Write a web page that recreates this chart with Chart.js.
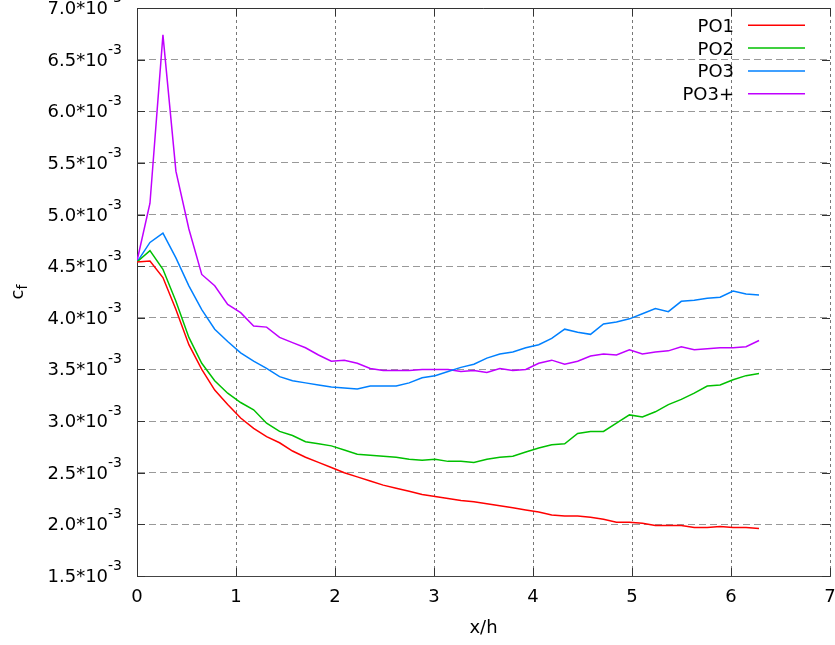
<!DOCTYPE html>
<html>
<head>
<meta charset="utf-8">
<script src="https://cdn.jsdelivr.net/npm/chart.js@4.4.1/dist/chart.umd.min.js"></script>
<style>
  html, body { margin: 0; padding: 0; background: #fff; }
  #wrap { width: 835px; height: 645px; }
</style>
</head>
<body>
<div id="wrap"><canvas id="cfChart" width="835" height="645"></canvas></div>
<script>
// x/h stations
const xh = [0, 0.131, 0.262, 0.393, 0.524, 0.654, 0.785, 0.916, 1.047, 1.178, 1.309, 1.440, 1.571,
    1.702, 1.833, 1.963, 2.094, 2.225, 2.356, 2.487, 2.618, 2.749, 2.880, 3.011, 3.142, 3.272,
    3.403, 3.534, 3.665, 3.796, 3.927, 4.058, 4.189, 4.320, 4.451, 4.581, 4.712, 4.843, 4.974,
    5.105, 5.236, 5.367, 5.498, 5.629, 5.760, 5.890, 6.021, 6.152, 6.283];

// c_f values, in units of 10^-3
const po1 = [4.54, 4.55, 4.39, 4.08, 3.74, 3.50, 3.30, 3.16, 3.03, 2.93, 2.85, 2.79, 2.71,
    2.65, 2.60, 2.55, 2.50, 2.46, 2.42, 2.38, 2.35, 2.32, 2.29, 2.27, 2.25, 2.23,
    2.22, 2.20, 2.18, 2.16, 2.14, 2.12, 2.09, 2.08, 2.08, 2.07, 2.05, 2.02, 2.02,
    2.01, 1.99, 1.99, 1.99, 1.97, 1.97, 1.98, 1.97, 1.97, 1.96];
const po2 = [4.54, 4.65, 4.47, 4.16, 3.81, 3.56, 3.39, 3.27, 3.18, 3.11, 2.98, 2.90, 2.86,
    2.80, 2.78, 2.76, 2.72, 2.68, 2.67, 2.66, 2.65, 2.63, 2.62, 2.63, 2.61, 2.61,
    2.60, 2.63, 2.65, 2.66, 2.70, 2.74, 2.77, 2.78, 2.88, 2.90, 2.90, 2.98, 3.06,
    3.04, 3.09, 3.16, 3.21, 3.27, 3.34, 3.35, 3.40, 3.44, 3.46];
const po3 = [4.54, 4.73, 4.82, 4.58, 4.31, 4.08, 3.89, 3.77, 3.66, 3.58, 3.51, 3.43, 3.39,
    3.37, 3.35, 3.33, 3.32, 3.31, 3.34, 3.34, 3.34, 3.37, 3.42, 3.44, 3.48, 3.52,
    3.55, 3.61, 3.65, 3.67, 3.71, 3.74, 3.80, 3.89, 3.86, 3.84, 3.94, 3.96, 3.99,
    4.04, 4.09, 4.06, 4.16, 4.17, 4.19, 4.20, 4.26, 4.23, 4.22];
const po3plus = [4.55, 5.11, 6.74, 5.42, 4.86, 4.42, 4.31, 4.13, 4.05, 3.92, 3.91, 3.81, 3.76,
    3.71, 3.64, 3.58, 3.59, 3.56, 3.51, 3.49, 3.49, 3.49, 3.50, 3.50, 3.50, 3.48,
    3.49, 3.47, 3.51, 3.49, 3.50, 3.56, 3.59, 3.55, 3.58, 3.63, 3.65, 3.64, 3.69,
    3.65, 3.67, 3.68, 3.72, 3.69, 3.70, 3.71, 3.71, 3.72, 3.78];

const seriesNames = ['PO1', 'PO2', 'PO3', 'PO3+'];
const seriesColors = ['#ff0000', '#00c000', '#0080ff', '#c000ff'];
const xTickValues = [0, 1, 2, 3, 4, 5, 6, 7];
const yTickValues = [1.5, 2.0, 2.5, 3.0, 3.5, 4.0, 4.5, 5.0, 5.5, 6.0, 6.5, 7.0];
const yTickExp = '-3';

const FONT = 'DejaVu Sans';

function toPoints(ys) {
    return ys.map(function (v, i) { return { x: xh[i], y: v }; });
}

const decorPlugin = {
    id: 'decor',
    afterDraw: function (chart) {
        const ctx = chart.ctx;
        const area = chart.chartArea;
        const xs = chart.scales.x;
        const ys = chart.scales.y;
        ctx.save();

        // solid top border + inward tick marks on all sides
        ctx.strokeStyle = '#333';
        ctx.lineWidth = 1;
        ctx.setLineDash([]);
        ctx.beginPath();
        ctx.moveTo(area.left, Math.round(area.top) + 0.5);
        ctx.lineTo(area.right, Math.round(area.top) + 0.5);
        yTickValues.forEach(function (v) {
            const py = Math.round(ys.getPixelForValue(v)) + 0.5;
            ctx.moveTo(area.left, py); ctx.lineTo(area.left + 8, py);
            ctx.moveTo(area.right, py); ctx.lineTo(area.right - 8, py);
        });
        xTickValues.forEach(function (v) {
            const px = Math.round(xs.getPixelForValue(v)) + 0.5;
            ctx.moveTo(px, area.bottom); ctx.lineTo(px, area.bottom - 8);
            ctx.moveTo(px, area.top); ctx.lineTo(px, area.top + 8);
        });
        ctx.stroke();

        // y tick labels with superscript exponent
        ctx.fillStyle = '#000';
        ctx.textBaseline = 'alphabetic';
        ctx.textAlign = 'right';
        yTickValues.forEach(function (v) {
            const py = ys.getPixelForValue(v);
            ctx.font = '14px "' + FONT + '"';
            const supW = ctx.measureText(yTickExp).width;
            ctx.fillText(yTickExp, 122, py - 6);
            ctx.font = '18px "' + FONT + '"';
            ctx.fillText(v.toFixed(1) + '*10', 122 - supW, py + 6);
        });

        // y axis title c_f
        ctx.translate(23, (area.top + area.bottom) / 2);
        ctx.rotate(-Math.PI / 2);
        ctx.textAlign = 'left';
        ctx.font = '18px "' + FONT + '"';
        const cW = ctx.measureText('c').width;
        ctx.font = '14px "' + FONT + '"';
        const fW = ctx.measureText('f').width;
        const start = -(cW + fW) / 2;
        ctx.font = '18px "' + FONT + '"';
        ctx.fillText('c', start, 0);
        ctx.font = '14px "' + FONT + '"';
        ctx.fillText('f', start + cW, 4);
        ctx.setTransform(1, 0, 0, 1, 0, 0);

        // legend, top right, text right-aligned with sample line after it
        ctx.font = '18px "' + FONT + '"';
        ctx.textAlign = 'right';
        chart.data.datasets.forEach(function (ds, i) {
            const rowY = 25.3 + i * 22.8;
            ctx.fillStyle = '#000';
            ctx.fillText(ds.label, 734, rowY + 6.5);
            ctx.strokeStyle = ds.borderColor;
            ctx.lineWidth = 1.5;
            ctx.beginPath();
            ctx.moveTo(748, rowY);
            ctx.lineTo(805, rowY);
            ctx.stroke();
        });
        ctx.restore();
    }
};

const cfChartCtx = document.getElementById('cfChart');
new Chart(cfChartCtx, {
    type: 'line',
    data: {
        datasets: [po1, po2, po3, po3plus].map(function (ys, i) {
            return {
                label: seriesNames[i],
                data: toPoints(ys),
                borderColor: seriesColors[i],
                backgroundColor: seriesColors[i],
                borderWidth: 1.5,
                pointRadius: 0,
                fill: false,
                tension: 0
            };
        })
    },
    options: {
        responsive: false,
        devicePixelRatio: 1,
        animation: false,
        layout: { padding: { left: 0, right: 5, top: 8, bottom: 0 } },
        plugins: { legend: { display: false }, tooltip: { enabled: false } },
        scales: {
            x: {
                type: 'linear',
                min: 0,
                max: 7,
                afterBuildTicks: function (scale) {
                    scale.ticks = xTickValues.map(function (v) { return { value: v }; });
                },
                afterFit: function (scale) {
                    scale.height = 69;
                    scale.paddingLeft = 0;
                    scale.paddingRight = 0;
                },
                ticks: {
                    color: '#000',
                    font: { family: FONT, size: 18 },
                    padding: 11,
                    maxRotation: 0,
                    autoSkip: false
                },
                grid: { color: '#777', lineWidth: 1, drawTicks: false },
                border: { display: true, color: '#444', dash: [3, 3] },
                title: {
                    display: true,
                    text: 'x/h',
                    color: '#000',
                    font: { family: FONT, size: 18 },
                    padding: { top: 0, bottom: 6 }
                }
            },
            y: {
                type: 'linear',
                min: 1.5,
                max: 7.0,
                afterBuildTicks: function (scale) {
                    scale.ticks = yTickValues.map(function (v) { return { value: v }; });
                },
                afterFit: function (scale) { scale.width = 137; },
                ticks: { display: false },
                grid: { color: '#999', lineWidth: 1, drawTicks: false },
                border: { display: true, color: '#333', dash: [7, 4] }
            }
        }
    },
    plugins: [decorPlugin]
});
</script>
</body>
</html>
